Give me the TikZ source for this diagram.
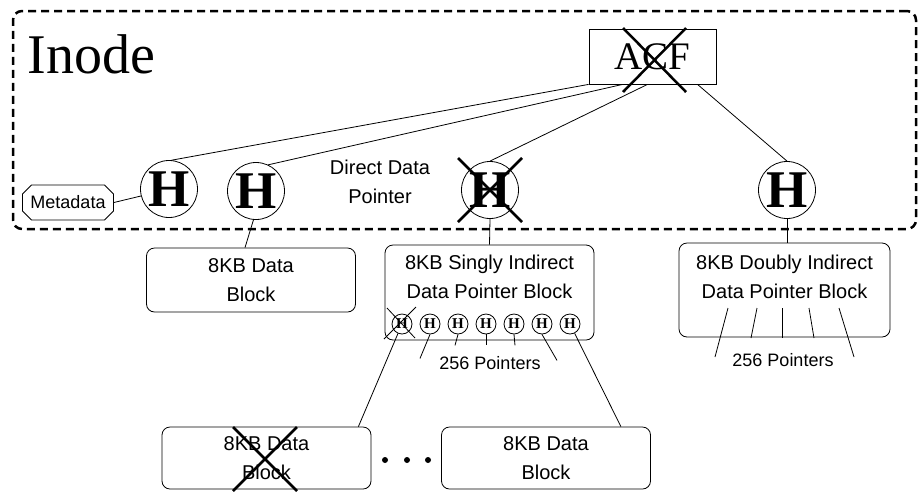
\documentclass[tikz,border=0pt]{standalone}
\usepackage{fontspec}
\setmainfont{Liberation Serif}
\setsansfont{Liberation Sans}
\usetikzlibrary{shapes.misc}
\begin{document}
\begin{tikzpicture}[x=1pt, y=-1pt, line width=0.8pt,
  inodebox/.style={draw, line width=2.5pt, dash pattern=on 8pt off 5pt, rounded corners=9pt},
  hptr/.style={circle, draw, minimum size=57pt, inner sep=0pt, font=\fontsize{53}{53}\selectfont\bfseries},
  subptr/.style={circle, draw, minimum size=20pt, inner sep=0pt, font=\fontsize{15}{15}\selectfont\bfseries},
  block/.style={draw, rounded corners=8pt, minimum width=209pt, align=center, font=\sffamily\fontsize{20}{29}\selectfont},
  txt/.style={align=center, inner sep=0pt, font=\sffamily\fontsize{20}{29}\selectfont},
  xmark/.style={line width=2.5pt}]
  \useasboundingbox (0,0) rectangle (918,491);
  \node[inodebox, minimum width=903pt, minimum height=218pt] (inode) at (464.5,120) {};
  \node[anchor=base west, inner sep=0pt, font=\fontsize{56}{56}\selectfont] (title) at (27,73) {Inode};
  \node[draw, minimum width=127pt, minimum height=55pt, font=\fontsize{39}{39}\selectfont] (acf) at (652.5,56.5) {ACF};
  \node[chamfered rectangle, chamfered rectangle xsep=6pt, draw, minimum width=91pt, minimum height=35pt, inner sep=1pt, font=\sffamily\fontsize{18}{18}\selectfont] (meta) at (68,202.5) {Metadata};
  \node[hptr] (h1) at (169,189) {H};
  \node[hptr] (h2) at (256,191) {H};
  \node[hptr] (h3) at (490,190) {H};
  \node[hptr] (h4) at (787,190) {H};
  \node[txt] (direct) at (380,182) {Direct Data\\Pointer};
  \node[block, minimum height=64pt] (data) at (251,280) {8KB Data\\Block};
  \node[block, minimum height=95pt] (singly) at (489.5,292.5) {};
  \node[txt] (singlytxt) at (489.5,277) {8KB Singly Indirect\\Data Pointer Block};
  \node[block, minimum width=211pt, minimum height=94pt] (doubly) at (784.5,290) {};
  \node[txt] (doublytxt) at (784.5,277) {8KB Doubly Indirect\\Data Pointer Block};
  \node[block, minimum height=62pt] (lastl) at (266.5,458) {8KB Data\\Block};
  \node[block, minimum height=62pt] (lastr) at (546,458) {8KB Data\\Block};
  \foreach \i in {1,...,7}
    \node[subptr] (p\i) at (374+28*\i,324) {H};
  \node[txt, font=\sffamily\fontsize{18}{18}\selectfont] (singlycount) at (490,363) {256 Pointers};
  \node[txt, font=\sffamily\fontsize{18}{18}\selectfont] (doublycount) at (783,360) {256 Pointers};
  \draw (acf.south west) -- (h1.85);
  \draw ([xshift=34pt]acf.south west) -- (h2.65);
  \draw ([xshift=-5pt]acf.south) -- (h3.north);
  \draw ([xshift=45pt]acf.south) -- (h4.north);
  \draw (meta.east) -- (h1.194);
  \draw (h2.265) -- ([xshift=-6pt]data.north);
  \draw (h3.south) -- (singly.north);
  \draw (h4.south) -- (h4.south |- doubly.north);
  \draw (p1) -- ([xshift=-13pt]lastl.north east);
  \draw (p7) -- ([xshift=-30pt]lastr.north east);
  \foreach \i/\dx/\dy in {2/-10/24, 3/-3/11, 4/0/11, 5/1/11, 6/15/26}
    \draw (p\i.south) -- ++(\dx,\dy);
  \foreach \a/\b in {728/715, 757/751, 782/782, 809/814, 839/854}
    \draw (\a,308) -- (\b,{\a==782||\a==757||\a==809 ? 338 : 357});
  \foreach \x in {385,407,428}
    \fill (\x,460) circle (3pt);
  \draw[xmark] (623,28) -- (686,92) (686,28) -- (623,92);
  \draw[xmark] (458,158) -- (522,222) (522,158) -- (458,222);
  \draw[xmark] (233,427) -- (297,491) (297,427) -- (233,491);
  \draw (384,339) -- (416,307) (387,308) -- (415,338);
\end{tikzpicture}
\end{document}
